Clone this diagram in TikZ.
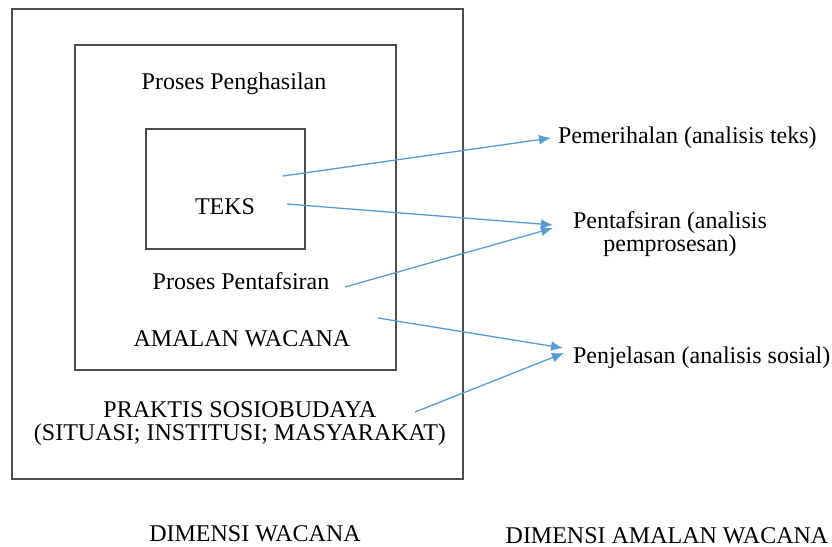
\documentclass[tikz,border=0pt]{standalone}
\usepackage{fontspec}
\setmainfont{Liberation Serif}
\usetikzlibrary{arrows.meta}
\definecolor{panah}{RGB}{91,155,213}
\begin{document}
\begin{tikzpicture}[x=0.5pt,y=-0.5pt,font=\fontsize{12}{14}\selectfont,
        kotak/.style={draw=black!70, line width=0.7pt},
        panahbiru/.style={draw=panah, line width=0.65pt, -{Latex[length=6pt,width=5pt]}}]
        \useasboundingbox (0,0) rectangle (832,547);
        % kotak bersarang
        \draw[kotak] (12,9) rectangle (463,479);
        \draw[kotak] (75,45) rectangle (396,370);
        \draw[kotak] (146,129) rectangle (305,249);
        \node (penghasilan) at (234,84) {Proses Penghasilan};
        \node (teks) at (225,207) {TEKS};
        \node (pentafsiran) at (241,281) {Proses Pentafsiran};
        \node (amalan) at (242,339) {AMALAN WACANA};
        \node[align=center, font=\fontsize{12}{11.5}\selectfont] (praktis) at (240,424) {PRAKTIS SOSIOBUDAYA\\(SITUASI; INSTITUSI; MASYARAKAT)};
        \node (dimwacana) at (255,534) {DIMENSI WACANA};
        \node (dimamalan) at (667,536) {DIMENSI AMALAN WACANA};
        % dimensi analisis
        \node[anchor=west] (pemerihalan) at (551,138) {Pemerihalan (analisis teks)};
        \node[align=center, font=\fontsize{12}{10}\selectfont] (tafsir) at (670,234) {Pentafsiran (analisis\\pemprosesan)};
        \node[anchor=west] (penjelasan) at (566,358) {Penjelasan (analisis sosial)};
        % titik mula dan hujung anak panah
        \coordinate (a1) at (283,176);
        \coordinate (a2) at (287,204);
        \coordinate (a3) at (345,287);
        \coordinate (a4) at (378,318);
        \coordinate (a5) at (415,412);
        \coordinate (t1) at (553,225);
        \coordinate (t2) at (553,228);
        \coordinate (j1) at (563,348);
        \coordinate (j2) at (564,353);
        \draw[panahbiru] (a1) -- (pemerihalan.west);
        \draw[panahbiru] (a2) -- (t1);
        \draw[panahbiru] (a3) -- (t2);
        \draw[panahbiru] (a4) -- (j1);
        \draw[panahbiru] (a5) -- (j2);
    \end{tikzpicture}
\end{document}
